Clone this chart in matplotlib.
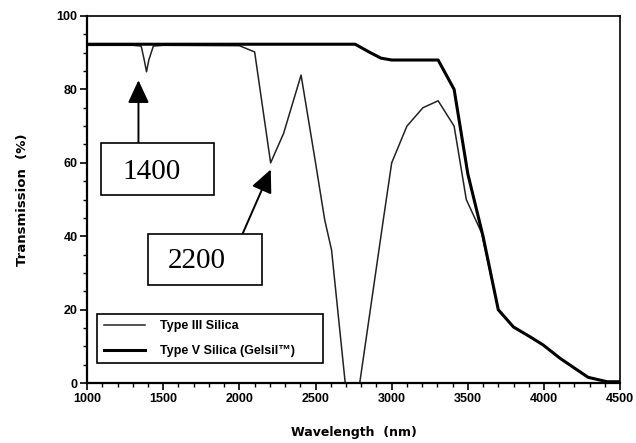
import matplotlib
matplotlib.use('Agg')
import matplotlib.pyplot as plt
from matplotlib.patches import Rectangle
from matplotlib.ticker import MultipleLocator

# Type III silica (thin line)
wl_iii = [1000, 1300, 1355, 1375, 1390, 1405, 1435, 1500, 2000, 2100, 2205,
          2290, 2405, 2500, 2560, 2605, 2695, 2790, 2945, 3000, 3100, 3205,
          3305, 3410, 3490, 3590, 3700]
tr_iii = [92.0, 92.0, 91.8, 88.0, 84.8, 88.0, 91.8, 92.0, 91.9, 90.2, 60.0,
          68.0, 83.9, 60.0, 44.5, 36.3, 0.0, 0.0, 44.5, 60.0, 70.0, 75.0,
          76.9, 70.0, 50.0, 41.0, 20.0]

# Type V silica (Gelsil, thick line)
wl_v = [1000, 2000, 2760, 2860, 2930, 3000, 3305, 3410, 3500, 3600, 3700,
        3800, 3910, 3995, 4105, 4190, 4290, 4415, 4500]
tr_v = [92.3, 92.3, 92.3, 90.0, 88.5, 88.0, 88.0, 80.0, 57.0, 40.0, 20.0,
        15.3, 12.6, 10.4, 6.8, 4.4, 1.6, 0.4, 0.4]

labels = ['Type III Silica', 'Type V Silica (Gelsil\u2122)']

fig = plt.figure(figsize=(6.36, 4.43), dpi=100)
ax = fig.add_axes([0.137, 0.135, 0.838, 0.829])

ax.plot(wl_iii, tr_iii, color='#222222', lw=1.1, label=labels[0])
ax.plot(wl_v, tr_v, color='black', lw=2.2, label=labels[1])

ax.set_xlim(1000, 4500)
ax.set_ylim(0, 100)
ax.xaxis.set_major_locator(MultipleLocator(500))
ax.xaxis.set_minor_locator(MultipleLocator(100))
ax.yaxis.set_major_locator(MultipleLocator(20))
ax.yaxis.set_minor_locator(MultipleLocator(5))
ax.tick_params(which='major', direction='out', length=5, width=1.2,
               labelsize=9, pad=2)
ax.tick_params(which='minor', direction='out', length=3, width=1.0)
for lab in ax.get_xticklabels() + ax.get_yticklabels():
    lab.set_fontweight('bold')
    lab.set_family('Liberation Sans')
for side in ['left', 'bottom']:
    ax.spines[side].set_linewidth(1.6)
for side in ['top', 'right']:
    ax.spines[side].set_linewidth(1.2)

ax.set_xlabel('Wavelength  (nm)', fontsize=9, fontweight='bold',
              family='DejaVu Sans', labelpad=15)
ax.set_ylabel('Transmission  (%)', fontsize=9.5, fontweight='bold',
              family='DejaVu Sans', labelpad=20)

leg = ax.legend(loc='lower left', bbox_to_anchor=(0.019, 0.0545, 0.424, 0.139),
                mode='expand',
                prop={'family': 'Liberation Sans', 'weight': 'bold', 'size': 9},
                fancybox=False, edgecolor='black', framealpha=1,
                handlelength=3.3, borderpad=0.5, labelspacing=1.0,
                handletextpad=1.2, borderaxespad=0)
leg.get_frame().set_linewidth(1.2)

arrow = dict(arrowstyle='-|>,head_width=0.65,head_length=1.4', color='black',
             lw=1.4, shrinkA=0, shrinkB=0)

# 1400 callout
ax.add_patch(Rectangle((0.0263, 0.512), 0.2117, 0.142, transform=ax.transAxes,
                       fc='white', ec='black', lw=1.2, zorder=4))
ax.text(0.121, 0.574, '1400', transform=ax.transAxes, ha='center',
        va='center', fontsize=21, family='Liberation Serif', zorder=5)
ax.annotate('', xy=(1337, 82.5), xytext=(1337, 65.4), arrowprops=arrow)

# 2200 callout
ax.add_patch(Rectangle((0.1138, 0.2687), 0.2138, 0.1389, transform=ax.transAxes,
                       fc='white', ec='black', lw=1.2, zorder=4))
ax.text(0.2056, 0.333, '2200', transform=ax.transAxes, ha='center',
        va='center', fontsize=21, family='Liberation Serif', zorder=5)
ax.annotate('', xy=(2206, 58.2), xytext=(2022, 40.8), arrowprops=arrow)

fig.savefig('out.png', dpi=100)
